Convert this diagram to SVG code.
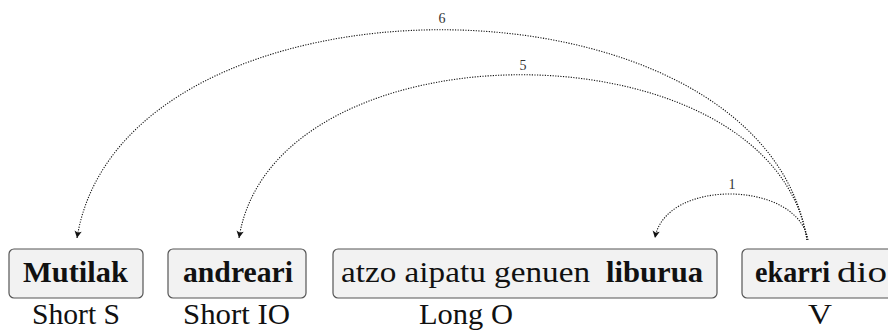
<svg xmlns="http://www.w3.org/2000/svg" width="888" height="331" viewBox="0 0 888 331">
<style>
  .box { fill: #f2f2f2; stroke: #555; stroke-width: 1.2; }
  .t { font-family: "Liberation Serif", "DejaVu Serif", serif; font-size: 29.5px; fill: #111; }
  .b { font-weight: bold; }
  .arc { fill: none; stroke: #111; stroke-width: 1.1; stroke-dasharray: 1.2 1.4; marker-end: url(#ah); }
  .num { font-family: "Liberation Serif", "DejaVu Serif", serif; font-size: 14px; fill: #333; text-anchor: middle; }
</style>
<defs>
  <marker id="ah" viewBox="-8 -4 9 8" refX="0" refY="0" markerWidth="9" markerHeight="8" markerUnits="userSpaceOnUse" orient="auto">
    <path d="M0,0 L-7,-3.6 L-5.2,0 L-7,3.6 Z" fill="#111"/>
  </marker>
</defs>
<rect width="888" height="331" fill="#fff"/>

<g id="node-mutilak">
  <rect class="box" x="9" y="249" width="134" height="49" rx="5"/>
  <text class="t b" x="23" y="282" textLength="105" lengthAdjust="spacingAndGlyphs">Mutilak</text>
  <text class="t" x="32" y="324" textLength="88" lengthAdjust="spacingAndGlyphs">Short S</text>
</g>

<g id="node-andreari">
  <rect class="box" x="168" y="249" width="138" height="49" rx="5"/>
  <text class="t b" x="183" y="282" textLength="110" lengthAdjust="spacingAndGlyphs">andreari</text>
  <text class="t" x="183" y="324" textLength="107" lengthAdjust="spacingAndGlyphs">Short IO</text>
</g>

<g id="node-liburua">
  <rect class="box" x="333" y="249" width="384" height="49" rx="5"/>
  <text class="t" x="341" y="282" textLength="249" lengthAdjust="spacingAndGlyphs">atzo aipatu genuen</text>
  <text class="t b" x="606" y="282" textLength="97" lengthAdjust="spacingAndGlyphs">liburua</text>
  <text class="t" x="419" y="324" textLength="94" lengthAdjust="spacingAndGlyphs">Long O</text>
</g>

<g id="node-ekarri">
  <rect class="box" x="742" y="249" width="157" height="49" rx="5"/>
  <text class="t b" x="755" y="282" textLength="75" lengthAdjust="spacingAndGlyphs">ekarri</text>
  <text class="t" x="837" y="282" textLength="50" lengthAdjust="spacingAndGlyphs">dio</text>
  <text class="t" x="808" y="324" textLength="24" lengthAdjust="spacingAndGlyphs">V</text>
</g>

<g id="connectors">
  <path class="arc" d="M807,240 C762,-40 122,-40 77,238"/>
  <text class="num" x="442" y="23">6</text>
  <path class="arc" d="M807,240 C772,21 274,19 239,238"/>
  <text class="num" x="523" y="70">5</text>
  <path class="arc" d="M808,240 C798,180 665,178 655,238"/>
  <text class="num" x="732" y="189">1</text>
</g>
</svg>
